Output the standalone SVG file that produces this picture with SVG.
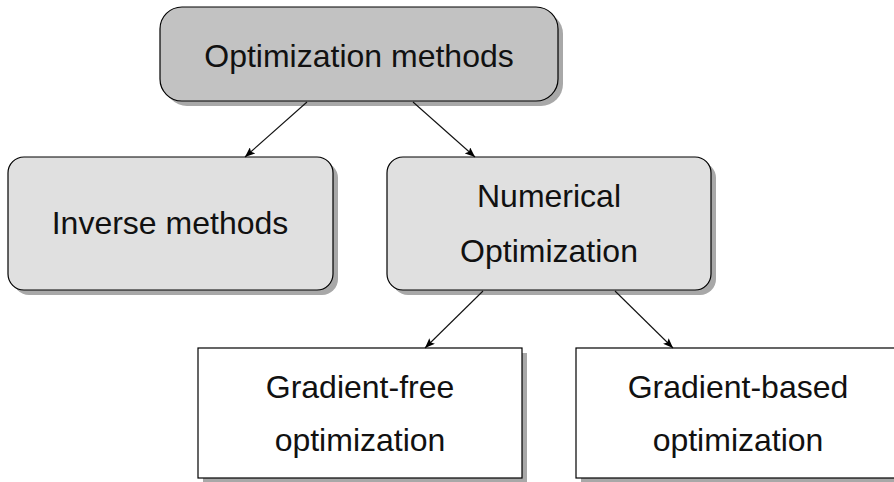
<svg xmlns="http://www.w3.org/2000/svg" width="894" height="482" viewBox="0 0 894 482">
<defs>
<marker id="ah" viewBox="0 0 10 8" refX="10" refY="4" markerWidth="10" markerHeight="8" markerUnits="userSpaceOnUse" orient="auto">
<path d="M0,0 L10,4 L0,8 L2,4 z" fill="#000"/>
</marker>
</defs>
<style>
.sh{fill:#a8a8a8}
.box{stroke:#000;stroke-width:1.2}
.g1{fill:#c2c2c2}
.g2{fill:#e0e0e0}
.w{fill:#fff}
text{font-family:"Liberation Sans",Arial,sans-serif;font-size:32px;fill:#111;text-anchor:middle}
.edge{stroke:#111;stroke-width:1.1;fill:none;marker-end:url(#ah)}
</style>
<rect width="894" height="482" fill="#fff"/>
<g id="top">
<rect class="sh" x="165" y="12" width="398" height="94" rx="22"/>
<rect class="box g1" x="160" y="7" width="398" height="94" rx="22"/>
<text x="359" y="67">Optimization methods</text>
</g>
<g id="inverse">
<rect class="sh" x="13" y="162" width="325" height="133" rx="16"/>
<rect class="box g2" x="8" y="157" width="325" height="133" rx="16"/>
<text x="170" y="234">Inverse methods</text>
</g>
<g id="numerical">
<rect class="sh" x="392" y="162" width="324" height="133" rx="16"/>
<rect class="box g2" x="387" y="157" width="324" height="133" rx="16"/>
<text x="549" y="207">Numerical</text>
<text x="549" y="262">Optimization</text>
</g>
<g id="gradfree">
<rect class="sh" x="203" y="353" width="324" height="130"/>
<rect class="box w" x="198" y="348" width="324" height="130"/>
<text x="360" y="398">Gradient-free</text>
<text x="360" y="451">optimization</text>
</g>
<g id="gradbased">
<rect class="sh" x="581" y="353" width="324" height="130"/>
<rect class="box w" x="576" y="348" width="324" height="130"/>
<text x="738" y="398">Gradient-based</text>
<text x="738" y="451">optimization</text>
</g>
<g id="connectors">
<line class="edge" x1="307" y1="102" x2="245" y2="157"/>
<line class="edge" x1="413" y1="102" x2="475" y2="157"/>
<line class="edge" x1="483" y1="291" x2="425" y2="348"/>
<line class="edge" x1="615" y1="291" x2="673" y2="348"/>
</g>
</svg>
